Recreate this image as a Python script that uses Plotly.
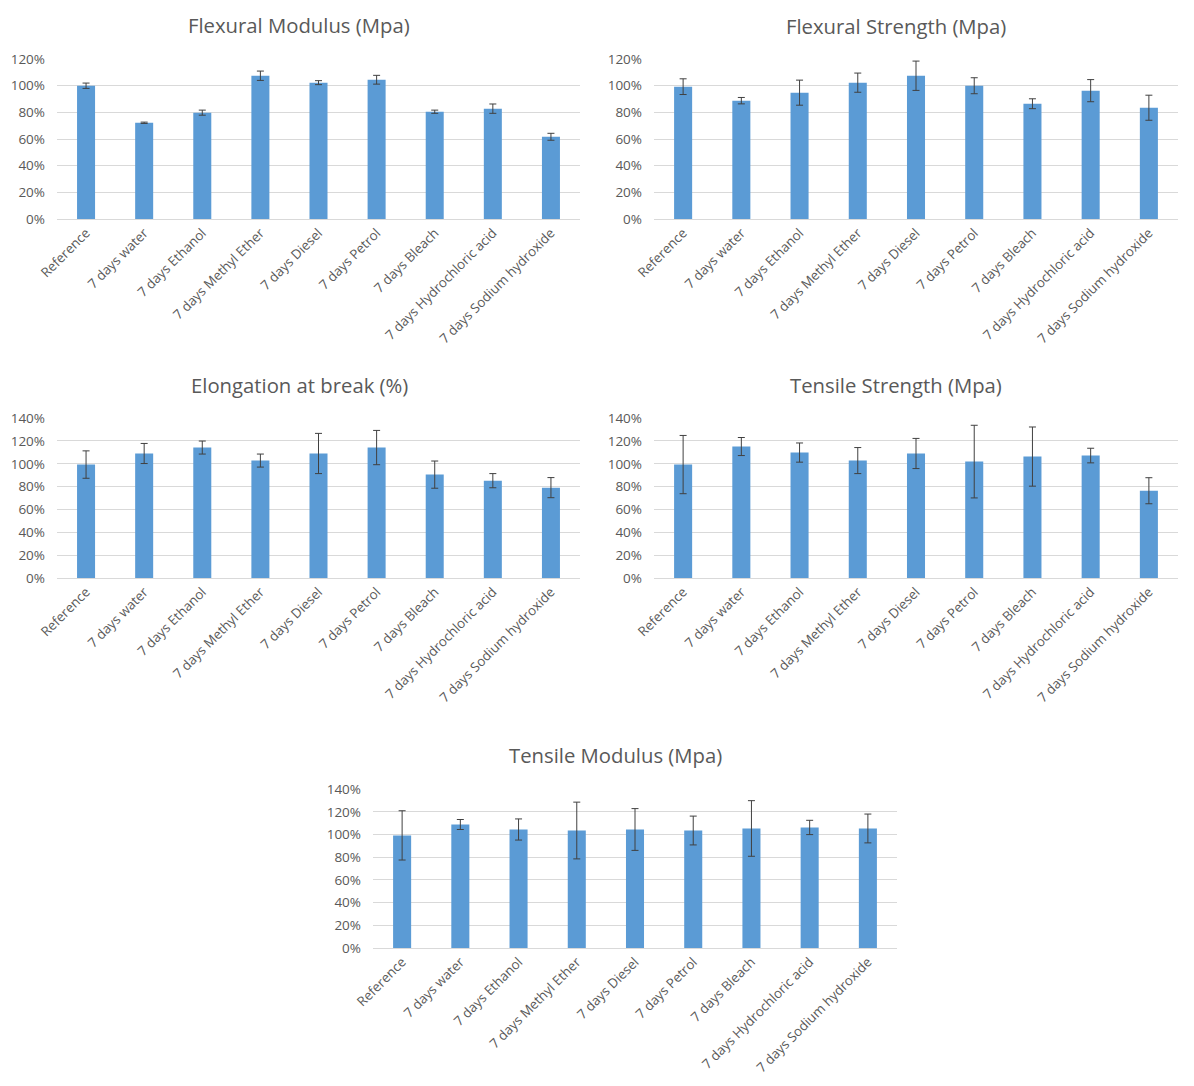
import plotly.graph_objects as go

categories = ["Reference", "7 days water", "7 days Ethanol", "7 days Methyl Ether",
              "7 days Diesel", "7 days Petrol", "7 days Bleach",
              "7 days Hydrochloric acid", "7 days Sodium hydroxide"]

flex_mod = [1.000, 0.722, 0.798, 1.075, 1.023, 1.045, 0.805, 0.828, 0.617]
flex_mod_err = [0.020, 0.005, 0.019, 0.035, 0.015, 0.033, 0.012, 0.035, 0.026]

flex_str = [0.993, 0.888, 0.948, 1.023, 1.075, 1.000, 0.865, 0.963, 0.835]
flex_str_err = [0.059, 0.024, 0.094, 0.072, 0.110, 0.060, 0.037, 0.083, 0.094]

elong = [0.993, 1.090, 1.142, 1.028, 1.090, 1.142, 0.905, 0.852, 0.791]
elong_err = [0.120, 0.088, 0.057, 0.057, 0.176, 0.150, 0.119, 0.062, 0.088]

tens_str = [0.993, 1.151, 1.098, 1.028, 1.090, 1.019, 1.063, 1.072, 0.764]
tens_str_err = [0.255, 0.079, 0.084, 0.114, 0.132, 0.318, 0.259, 0.064, 0.114]

tens_mod = [0.992, 1.088, 1.044, 1.035, 1.044, 1.035, 1.053, 1.062, 1.053]
tens_mod_err = [0.217, 0.044, 0.093, 0.250, 0.184, 0.127, 0.245, 0.063, 0.127]

titles = ["Flexural Modulus (Mpa)", "Flexural Strength (Mpa)", "Elongation at break (%)",
          "Tensile Strength (Mpa)", "Tensile Modulus (Mpa)"]

# page body has an 8px margin, so the figure is sized to fit inside the window
OFF = 8
W, H = 1194 - 2 * OFF, 1086 - 2 * OFF
# panel boxes in page pixels: (left, right, top, bottom), y max, title center x, title y
panels = [
    (57, 580, 59, 219, 1.2, 299, 25),
    (654, 1178, 59, 219, 1.2, 896, 26),
    (57, 580, 418, 578, 1.4, 299, 385),
    (654, 1178, 418, 578, 1.4, 896, 385),
    (373, 897, 789, 948, 1.4, 615, 755),
]
series = [(flex_mod, flex_mod_err), (flex_str, flex_str_err), (elong, elong_err),
          (tens_str, tens_str_err), (tens_mod, tens_mod_err)]

fig = go.Figure()
layout = dict(
    width=W, height=H, margin=dict(l=0, r=0, t=0, b=0, autoexpand=False),
    paper_bgcolor="white", plot_bgcolor="white", showlegend=False,
    font=dict(family="Open Sans", color="#595959", size=13),
)
annotations = []
for i, ((l, r, t, b, ymax, tx, ty), (vals, errs), title) in enumerate(zip(panels, series, titles)):
    n = "" if i == 0 else str(i + 1)
    l, r, t, b, tx, ty = l - OFF, r - OFF, t - OFF, b - OFF, tx - OFF, ty - OFF
    fig.add_trace(go.Bar(
        x=categories, y=vals, xaxis="x" + n, yaxis="y" + n,
        marker=dict(color="#5B9BD5", line=dict(width=0)), width=0.31,
        error_y=dict(type="data", array=errs, visible=True, color="#404040",
                     thickness=1, width=3.5),
        hoverinfo="skip",
    ))
    layout["xaxis" + n] = dict(
        domain=[l / W, r / W], anchor="y" + n, tickangle=-45, automargin=False,
        showline=True, linecolor="#d9d9d9", linewidth=1, showgrid=False,
        ticks="", tickfont=dict(size=13.3, color="#595959"), ticklabelstandoff=0,
    )
    layout["yaxis" + n] = dict(
        domain=[1 - b / H, 1 - t / H], anchor="x" + n, range=[0, ymax * 1.0005],
        dtick=0.2, tickformat=".0%", showgrid=True, gridcolor="#d9d9d9",
        gridwidth=1, zeroline=False, showline=False, ticks="", automargin=False,
        tickfont=dict(size=13.5, color="#595959"), ticklabelstandoff=11,
    )
    annotations.append(dict(
        text=title, x=tx / W, y=1 - ty / H, xref="paper", yref="paper",
        xanchor="center", yanchor="middle", showarrow=False,
        font=dict(size=20.3, color="#595959", family="Open Sans"),
    ))
layout["annotations"] = annotations
fig.update_layout(**layout)
fig.write_html("out.html")
